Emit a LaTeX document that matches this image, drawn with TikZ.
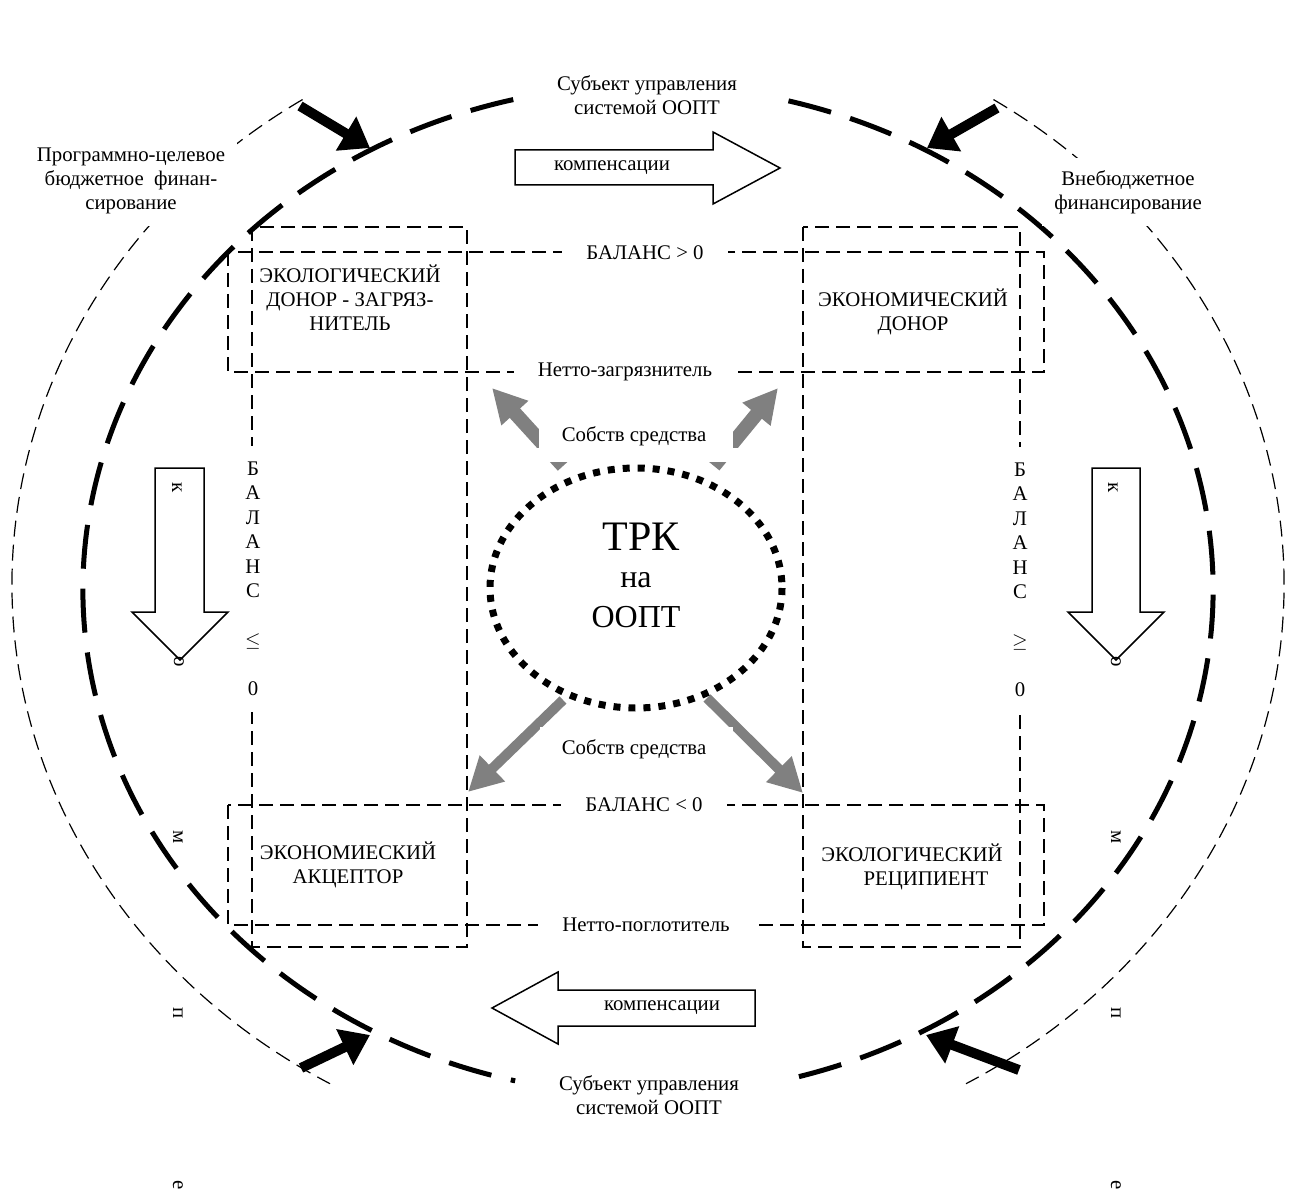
\documentclass[tikz,border=0pt]{standalone}
\usepackage{fontspec}
\setmainfont{Liberation Serif}
\usetikzlibrary{arrows.meta,shapes.geometric}
\definecolor{arrgray}{HTML}{808080}
\tikzset{
  txt/.style={font=\fontsize{10.4}{12}\selectfont, align=center, inner sep=1pt},
  thinell/.style={line width=0.6pt, dash pattern=on 8pt off 4pt},
  thickell/.style={line width=2.5pt, dash pattern=on 22pt off 10pt},
  rectd/.style={line width=0.8pt, dash pattern=on 7pt off 3.5pt},
  lbl/.style={txt, fill=white, inner xsep=12pt, inner ysep=1pt},
  outlbl/.style={txt, fill=white, inner sep=6pt},
  blockarr/.style={draw, fill=white, line width=0.75pt},
  blackarr/.style={line width=5pt, -{Triangle[length=14pt,width=19pt]}},
  grayup/.style={draw=arrgray, line width=7pt, -{Triangle[length=17pt,width=17pt]}},
  graydn/.style={draw=arrgray, line width=5pt, -{Triangle[length=17pt,width=17pt]}},
  vlet/.style={txt, rotate=-90},
  cover/.style={fill=white, draw=none}
}
\begin{document}
\begin{tikzpicture}[x=0.5pt,y=-0.5pt]
\path[use as bounding box, fill=white] (0,0) rectangle (1293,1192);

% outer thin dashed ellipse (two arcs)
\draw[thinell] (648,584) ++(-122.9:636 and 577) arc[start angle=-122.9, end angle=-240, x radius=636, y radius=577];
\draw[thinell] (648,584) ++(-57.1:636 and 577) arc[start angle=-57.1, end angle=60, x radius=636, y radius=577];

% thick dashed ellipse (two arcs)
\draw[thickell] (648,590) ++(-75.6:565 and 505) arc[start angle=-75.6, end angle=76.4, x radius=565, y radius=505];
\draw[thickell] (648,590) ++(-103.8:565 and 505) arc[start angle=-103.8, end angle=-256.4, x radius=565, y radius=505];

% dashed rectangles
\draw[rectd] (252,227) rectangle (467,947);
\draw[rectd] (803,227) rectangle (1020,947);
\draw[rectd] (228,252) rectangle (1044,372);
\draw[rectd] (228,805) rectangle (1044,925);

% labels on rectangle borders
\node[lbl] (bal1) at (645,253) {БАЛАНС > 0};
\node[lbl] (netto1) at (625,372) {Нетто-загрязнитель};
\node[lbl] (bal2) at (644,805) {БАЛАНС < 0};
\node[lbl] (netto2) at (646,925) {Нетто-поглотитель};
\node[txt, fill=white, inner xsep=2pt, inner ysep=8pt, font=\fontsize{10.4}{12.25}\selectfont] (balL) at (253,579)
  {Б\\А\\Л\\А\\Н\\С\\\mbox{}\\$\leq$\\\mbox{}\\0};
\node[txt, fill=white, inner xsep=2pt, inner ysep=8pt, font=\fontsize{10.4}{12.25}\selectfont] (balR) at (1020,580)
  {Б\\А\\Л\\А\\Н\\С\\\mbox{}\\$\geq$\\\mbox{}\\0};

% centre ellipse
\node[draw=none, ellipse, minimum width=146pt, minimum height=120pt, inner sep=0] (trk) at (636,588) {};

% gray arrows
\coordinate (gulT) at (563,466); \coordinate (gulH) at (492,388);
\coordinate (gurT) at (714,466); \coordinate (gurH) at (778,388);
\coordinate (gdlT) at (563,700); \coordinate (gdlH) at (468,792);
\coordinate (gdrT) at (707,698); \coordinate (gdrH) at (803,793);
\draw[grayup] (gulT) -- (gulH);
\draw[grayup] (gurT) -- (gurH);
\draw[graydn] (gdlT) -- (gdlH);
\draw[graydn] (gdrT) -- (gdrH);

% text boxes covering the arrows
\path[cover] (539,400) rectangle (733,448);
\path[cover] (525,448) rectangle (748,462);
\path[cover] (540,727) rectangle (733,775);
\node[txt] (own1) at (634,436) {Собств средства};
\node[txt] (own2) at (634,749) {Собств средства};

% dotted ellipse with text
\draw[line width=3.5pt, dash pattern=on 3.5pt off 4pt] (636,588) ellipse [x radius=146, y radius=120];
\node[font=\fontsize{21}{24}\selectfont, inner sep=0] (trkA) at (641,537) {ТРК};
\node[font=\fontsize{16}{19}\selectfont, inner sep=0] (trkB) at (636,580) {на};
\node[font=\fontsize{16}{19}\selectfont, inner sep=0] (trkC) at (636,617) {ООПТ};

% block arrows
\draw[blockarr] (515,150) -- (713,150) -- (713,132) -- (780,168) -- (713,204) -- (713,185) -- (515,185) -- cycle;
\node[txt] (comp1) at (612,168) {компенсации};
\draw[blockarr] (755,990) -- (558,990) -- (558,972) -- (492,1008) -- (558,1044) -- (558,1026) -- (755,1026) -- cycle;
\node[txt] (comp2) at (662,1008) {компенсации};
\draw[blockarr] (155,468) -- (204,468) -- (204,612) -- (228,612) -- (180,660) -- (132,612) -- (155,612) -- cycle;
\draw[blockarr] (1092,468) -- (1140,468) -- (1140,612) -- (1164,612) -- (1116,660) -- (1068,612) -- (1092,612) -- cycle;

% vertical letters
\node[vlet] (kL) at (177,488) {к};
\node[vlet] (oL) at (179,662) {о};
\node[vlet] (mL) at (178,837) {м};
\node[vlet] (pL) at (178,1013) {п};
\node[vlet] (eL) at (178,1185) {е};
\node[vlet] (kR) at (1113,488) {к};
\node[vlet] (oR) at (1116,662) {о};
\node[vlet] (mR) at (1116,837) {м};
\node[vlet] (pR) at (1116,1013) {п};
\node[vlet] (eR) at (1116,1185) {е};

% black arrows
\coordinate (bTLt) at (300,106); \coordinate (bTLh) at (370,148);
\coordinate (bTRt) at (997,108); \coordinate (bTRh) at (927,148);
\coordinate (bBLt) at (301,1068); \coordinate (bBLh) at (370,1035);
\coordinate (bBRt) at (1019,1070); \coordinate (bBRh) at (926,1035);
\draw[blackarr] (bTLt) -- (bTLh);
\draw[blackarr] (bTRt) -- (bTRh);
\draw[blackarr] (bBLt) -- (bBLh);
\draw[blackarr] (bBRt) -- (bBRh);

% box texts
\node[txt] (ecoDonor) at (350,298) {ЭКОЛОГИЧЕСКИЙ\\ДОНОР - ЗАГРЯЗ-\\НИТЕЛЬ};
\node[txt] (ecoDonor2) at (913,312) {ЭКОНОМИЧЕСКИЙ\\ДОНОР};
\node[txt] (acceptor) at (348,865) {ЭКОНОМИЕСКИЙ\\АКЦЕПТОР};
\node[txt] (recip) at (912,867) {ЭКОЛОГИЧЕСКИЙ\\\hspace*{14pt}РЕЦИПИЕНТ};

% outer labels
\node[txt] (subj1) at (647,95) {Субъект управления\\системой ООПТ};
\node[txt] (subj2) at (649,1095) {Субъект управления\\системой ООПТ};
\node[outlbl] (prog) at (131,181) {Программно-целевое\\бюджетное\ \ финан-\\сирование};
\node[outlbl] (extra) at (1128,192) {Внебюджетное\\финансирование};
\end{tikzpicture}
\end{document}
